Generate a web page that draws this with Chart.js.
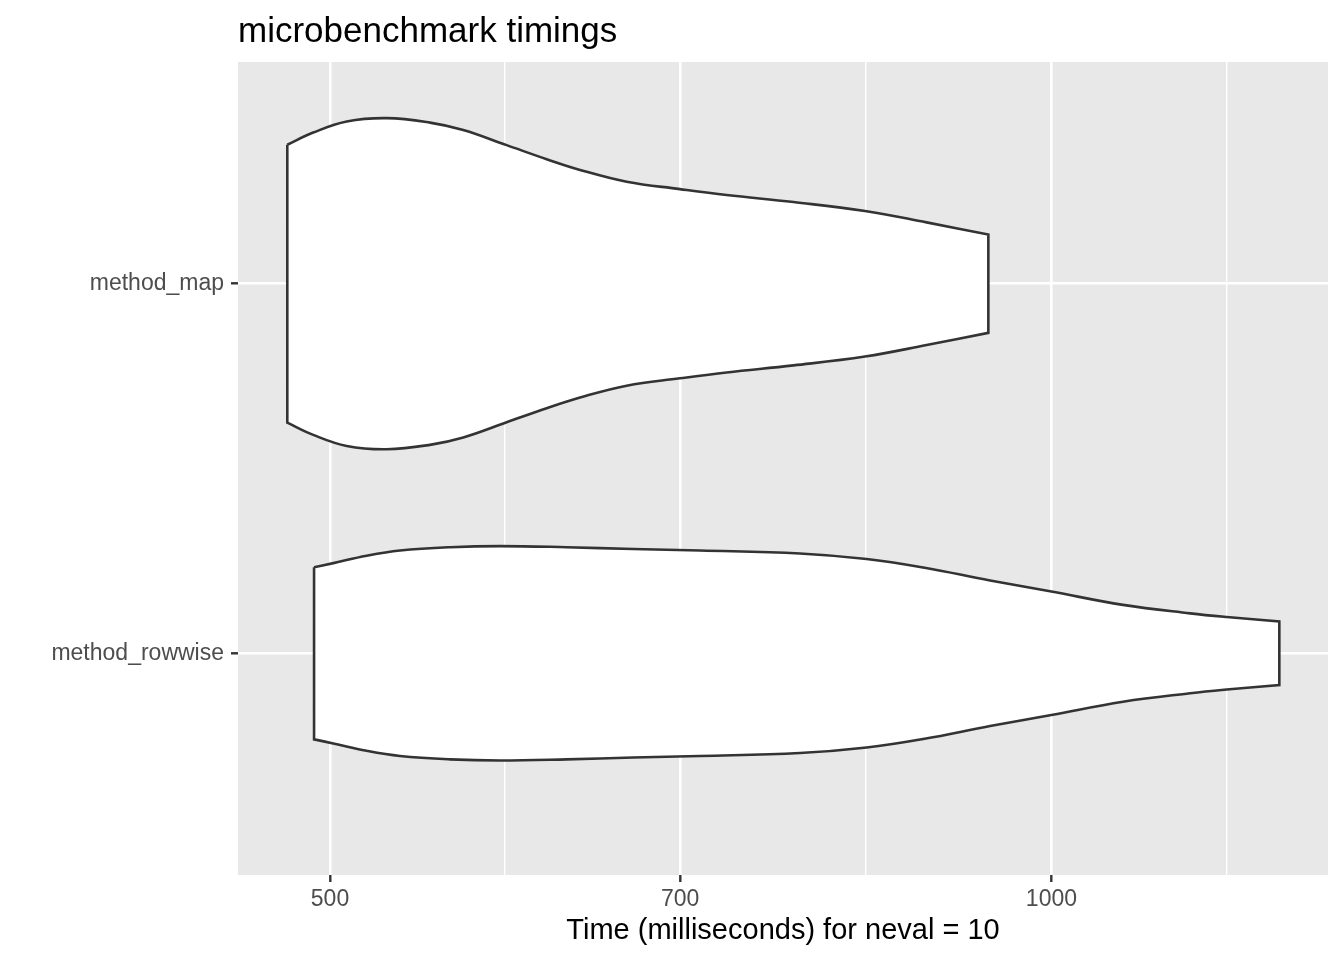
<!DOCTYPE html>
<html>
<head>
<meta charset="utf-8">
<script src="https://cdn.jsdelivr.net/npm/chart.js@4/dist/chart.umd.min.js"></script>
<style>
  body { margin: 0; background: #fff; }
</style>
</head>
<body>
<canvas id="chart" width="1344" height="960"></canvas>
<script>
// categories from bottom (y = 1) to top (y = 2)
const categories = ['method_rowwise', 'method_map'];

// violin outlines: time (ms) and half width (in category units)
const mapTimes = [479.9, 492.0, 508.1, 528.0, 550.4, 568.3, 592.5, 615.7, 635.8, 664.9, 699.8, 731.9, 780.5, 836.0, 887.0, 941.2];
const mapHalfWidth = [0.376, 0.409, 0.439, 0.448, 0.436, 0.416, 0.375, 0.337, 0.308, 0.276, 0.256, 0.240, 0.221, 0.197, 0.166, 0.133];

const rowwiseTimes = [492.4, 501.6, 517.9, 534.8, 561.1, 588.7, 627.6, 669.1, 713.4, 785.3, 837.3, 884.1, 942.8, 1000.0, 1071.2, 1142.6, 1183.5, 1244.8];
const rowwiseHalfWidth = [0.233, 0.244, 0.264, 0.278, 0.287, 0.290, 0.287, 0.282, 0.278, 0.270, 0.255, 0.232, 0.197, 0.167, 0.131, 0.108, 0.098, 0.086];

const majorTicks = [500, 700, 1000];
const minorTicks = [591.6, 836.9, 1183.8];

const fontFamily = "'Liberation Sans', Arial, Helvetica, sans-serif";

// closed outline, corners doubled so the spline keeps them sharp
function outline(times, half, c) {
    var pts = [];
    var n = times.length;
    pts.push({ x: times[0], y: c + half[0] });
    for (var i = 0; i < n; i++) {
        pts.push({ x: times[i], y: c + half[i] });
    }
    pts.push({ x: times[n - 1], y: c + half[n - 1] });
    pts.push({ x: times[n - 1], y: c - half[n - 1] });
    for (var i = n - 1; i >= 0; i--) {
        pts.push({ x: times[i], y: c - half[i] });
    }
    pts.push({ x: times[0], y: c - half[0] });
    pts.push({ x: times[0], y: c + half[0] });
    return pts;
}

const panelBg = {
    id: 'panelBg',
    beforeDraw(chart) {
        const { ctx, chartArea: a } = chart;
        ctx.save();
        ctx.fillStyle = '#E8E8E8';
        ctx.fillRect(a.left, a.top, a.right - a.left, a.bottom - a.top);
        ctx.restore();
    }
};

const plotTitle = {
    id: 'plotTitle',
    afterDraw(chart) {
        const ctx = chart.ctx;
        ctx.save();
        ctx.fillStyle = '#000';
        ctx.font = '35px ' + fontFamily;
        ctx.textAlign = 'left';
        ctx.textBaseline = 'alphabetic';
        ctx.fillText('microbenchmark timings', chart.chartArea.left, 42);
        ctx.restore();
    }
};

const violinStyle = {
    showLine: true,
    fill: 'shape',
    backgroundColor: '#FFFFFF',
    borderColor: '#333333',
    borderWidth: 2.6,
    pointRadius: 0,
    pointHoverRadius: 0,
    tension: 0.4
};

const config = {
    type: 'scatter',
    data: {
        datasets: [
            Object.assign({ label: categories[1], data: outline(mapTimes, mapHalfWidth, 2) }, violinStyle),
            Object.assign({ label: categories[0], data: outline(rowwiseTimes, rowwiseHalfWidth, 1) }, violinStyle)
        ]
    },
    options: {
        responsive: false,
        devicePixelRatio: 1,
        animation: false,
        layout: { padding: { top: 62, right: 16, left: 0, bottom: 0 } },
        plugins: {
            legend: { display: false },
            tooltip: { enabled: false },
            title: { display: false }
        },
        scales: {
            x: {
                type: 'logarithmic',
                min: 457.7,
                max: 1304.4,
                afterBuildTicks: function (axis) {
                    var vals = majorTicks.concat(minorTicks).sort(function (a, b) { return a - b; });
                    axis.ticks = vals.map(function (v) { return { value: v }; });
                },
                afterFit: function (axis) { axis.height = 85; },
                border: { display: false },
                grid: {
                    color: '#FFFFFF',
                    lineWidth: function (c) { return majorTicks.includes(c.tick.value) ? 2.6 : 1.4; },
                    tickColor: function (c) { return majorTicks.includes(c.tick.value) ? '#333333' : 'rgba(0,0,0,0)'; },
                    tickLength: 7,
                    tickWidth: 2.4
                },
                ticks: {
                    autoSkip: false,
                    maxRotation: 0,
                    padding: 4,
                    color: '#4D4D4D',
                    font: { family: fontFamily, size: 23 },
                    callback: function (value) { return majorTicks.includes(value) ? String(value) : ''; }
                },
                title: {
                    display: true,
                    text: 'Time (milliseconds) for neval = 10',
                    color: '#000',
                    font: { family: fontFamily, size: 29 },
                    padding: { top: 4, bottom: 12 }
                }
            },
            y: {
                type: 'linear',
                min: 0.4,
                max: 2.6,
                afterBuildTicks: function (axis) {
                    axis.ticks = [{ value: 1 }, { value: 2 }];
                },
                afterFit: function (axis) { axis.width = 238; },
                border: { display: false },
                grid: {
                    color: '#FFFFFF',
                    lineWidth: 2.6,
                    tickColor: '#333333',
                    tickLength: 7,
                    tickWidth: 2.4
                },
                ticks: {
                    padding: 7,
                    color: '#4D4D4D',
                    font: { family: fontFamily, size: 23 },
                    callback: function (value) { return categories[value - 1]; }
                }
            }
        }
    },
    plugins: [panelBg, plotTitle]
};

const myChart = new Chart(document.getElementById('chart'), config);
</script>
</body>
</html>
